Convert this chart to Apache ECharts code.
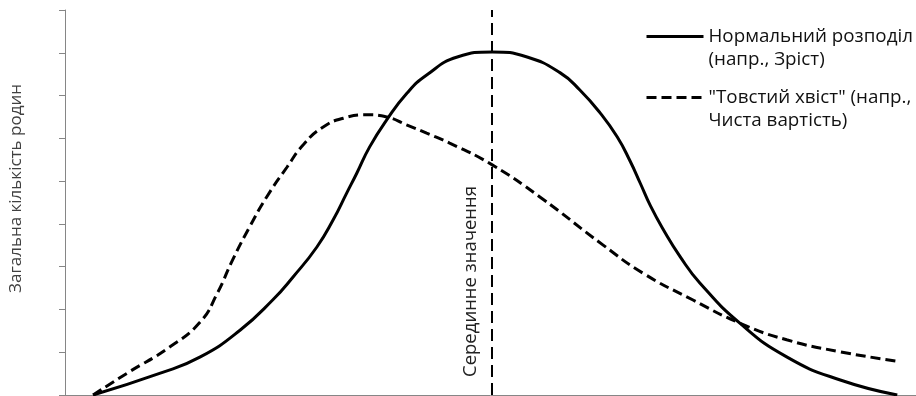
<!DOCTYPE html>
<html>
<head>
<meta charset="utf-8">
<script src="https://cdn.jsdelivr.net/npm/echarts@6/dist/echarts.min.js"></script>
<style>
  html, body { margin: 0; padding: 0; background: #fff; }
  #main { width: 916px; height: 396px; }
</style>
</head>
<body>
<div id="main"></div>
<script>
// values (x: 0..100 across the plot, y: 0..9 ticks)
const normalX = [3.3, 11.2, 15.9, 20.6, 24.4, 26.8, 29.6, 31.5, 33.1, 34.3, 35.8, 37.8, 40.2, 42.5, 46.1, 50.2, 54.3, 58.2, 60.5, 62.9, 64.9, 66.4, 67.6, 68.8, 70.3, 72.3, 74.6, 79.3, 84.8, 91.1, 97.8];
const normalY = [0, 0.51, 0.89, 1.52, 2.22, 2.76, 3.46, 4.09, 4.72, 5.19, 5.80, 6.43, 7.06, 7.48, 7.90, 8.02, 7.90, 7.53, 7.13, 6.59, 6.03, 5.47, 4.95, 4.42, 3.87, 3.23, 2.62, 1.68, 0.89, 0.35, 0];

const fatX = [3.3, 7.3, 12.3, 15.9, 17.9, 19.7, 21.7, 23.7, 26.1, 28.0, 30.3, 32.7, 35.5, 37.8, 40.2, 42.5, 45.2, 50.2, 55.8, 63.2, 67.9, 73.8, 79.3, 84.8, 91.1, 97.8];
const fatY = [0, 0.51, 1.12, 1.71, 2.38, 3.16, 3.93, 4.63, 5.33, 5.85, 6.26, 6.47, 6.55, 6.50, 6.31, 6.12, 5.89, 5.38, 4.63, 3.51, 2.85, 2.22, 1.68, 1.29, 1.01, 0.79];

const medianX = 50.2;

const seriesNames = ['Нормальний розподіл\n(напр., Зріст)', '"Товстий хвіст" (напр.,\nЧиста вартість)'];
const yAxisTitle = 'Загальна кількість родин';
const medianLabel = 'Серединне значення';

function pairs(xs, ys) {
  return xs.map((x, i) => [x, ys[i]]);
}

const fontFamily = '"Open Sans", sans-serif';
const chart = echarts.init(document.getElementById('main'));

chart.setOption({
  animation: false,
  grid: { left: 65, right: 0, top: 10, bottom: 1 },
  legend: {
    orient: 'vertical',
    left: 645,
    top: 2,
    padding: 0,
    itemWidth: 57,
    itemHeight: 14,
    itemGap: -8,
    itemStyle: { opacity: 0 },
    lineStyle: { width: 3 },
    // blank first line keeps the key level with the first text line
    formatter: name => '\u00a0\n' + name,
    textStyle: {
      fontFamily: fontFamily,
      fontSize: 18.8,
      color: '#111',
      lineHeight: 23
    },
    data: seriesNames
  },
  xAxis: {
    type: 'value',
    min: 0,
    max: 100,
    axisLine: { show: true, lineStyle: { color: '#868686', width: 1 } },
    axisTick: { show: false },
    axisLabel: { show: false },
    splitLine: { show: false }
  },
  yAxis: {
    type: 'value',
    min: 0,
    max: 9,
    interval: 1,
    name: yAxisTitle,
    nameLocation: 'middle',
    nameGap: 40,
    nameTextStyle: { fontFamily: fontFamily, fontSize: 17, color: '#404040', padding: [0, 0, 0, 28] },
    axisLine: { show: true, lineStyle: { color: '#868686', width: 1 } },
    axisTick: { show: true, length: 6, lineStyle: { color: '#868686' } },
    axisLabel: { show: false },
    splitLine: { show: false }
  },
  series: [
    {
      name: seriesNames[0],
      type: 'line',
      smooth: 0.5,
      symbol: 'none',
      data: pairs(normalX, normalY),
      lineStyle: { color: '#000', width: 3 },
      itemStyle: { color: '#000' },
      markLine: {
        silent: true,
        symbol: 'none',
        lineStyle: { color: '#000', width: 2, type: [12, 6] },
        label: {
          show: true,
          position: 'insideStartTop',
          formatter: medianLabel,
          fontFamily: fontFamily,
          fontSize: 18.5,
          color: '#222',
          distance: [18, 12]
        },
        data: [{ xAxis: medianX }]
      }
    },
    {
      name: seriesNames[1],
      type: 'line',
      smooth: 0.5,
      symbol: 'none',
      data: pairs(fatX, fatY),
      lineStyle: { color: '#000', width: 3, type: [10, 5] },
      itemStyle: { color: '#000' }
    }
  ]
});
</script>
</body>
</html>
